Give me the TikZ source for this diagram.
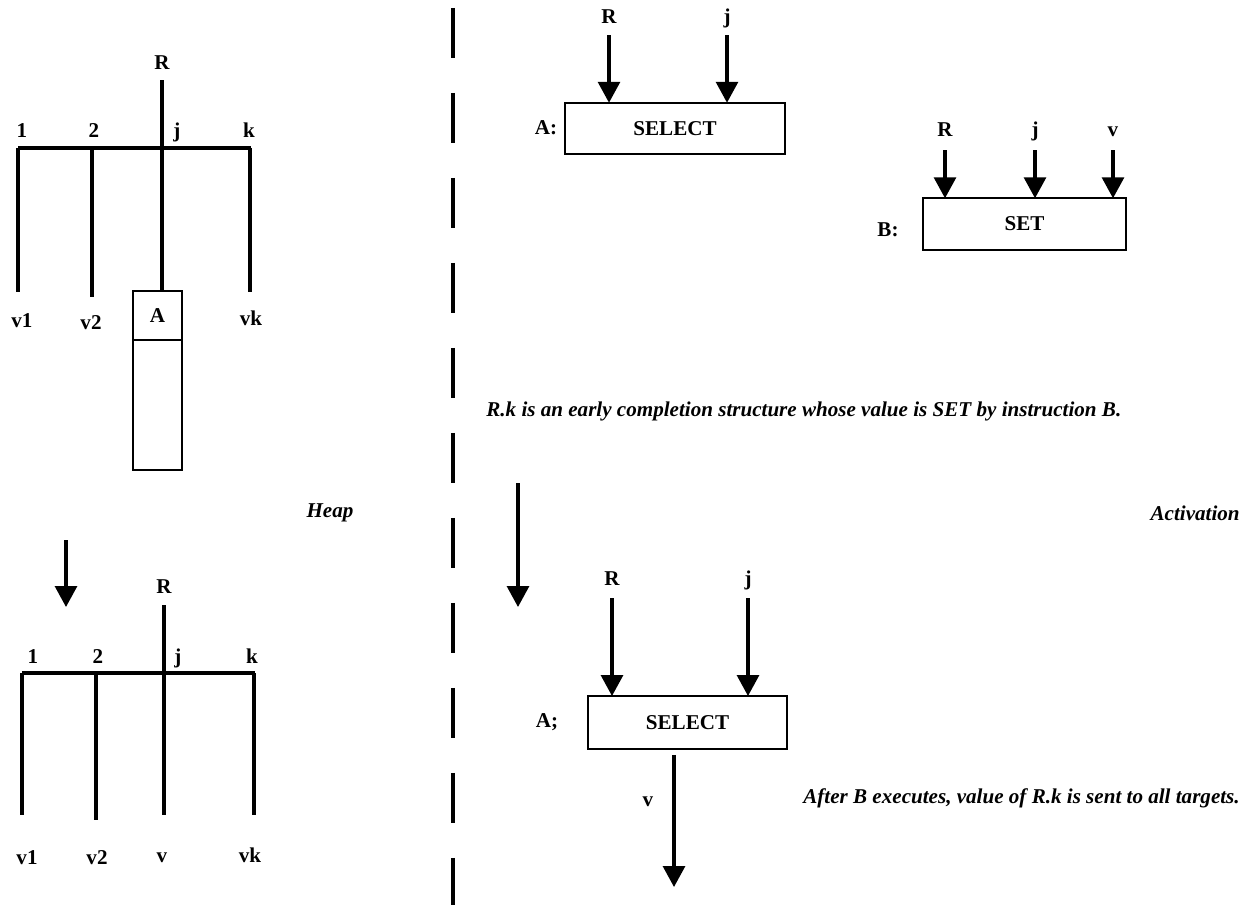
\documentclass[tikz,border=0pt]{standalone}
\usepackage{fontspec}
\setmainfont{Liberation Serif}
\usetikzlibrary{arrows.meta, positioning}

\begin{document}
\begin{tikzpicture}[
  x=0.02cm, y=-0.02cm,
  font=\bfseries\fontsize{12}{14}\selectfont,
  wire/.style={line width=1.8pt},
  lbl/.style={anchor=base, inner sep=2pt, text depth=0pt},
  box/.style={draw, line width=1.4pt, minimum height=1.03cm, outer sep=0pt},
  cell/.style={draw, line width=1.5pt, minimum width=0.98cm, minimum height=0.98cm, outer sep=0pt},
  note/.style={font=\bfseries\itshape\fontsize{12}{14}\selectfont, inner sep=0pt},
  arr/.style={line width=1.8pt, -{Triangle[length=0.42cm,width=0.44cm]}},
  divider/.style={line width=1.8pt, dash pattern=on 1.0cm off 0.7cm}
]
\useasboundingbox (0,0) rectangle (1250,905);

% Heap: structure R before B has run
\node[lbl] (R1) at (162,70) {R};
\node[cell] (cellA) at (157.5,315.5) {A};
\node[cell, minimum height=2.6cm, below=0pt of cellA] (slotA) {};
\draw[wire, shorten <=0.13cm] (R1.south) -- (R1.south |- cellA.north);
\coordinate (bar1L) at (18,148);
\coordinate (bar1R) at (251,148);
\draw[wire] (bar1L) -- (bar1R);
\foreach \n/\x/\e in {1/18/292, 2/92/297, k/250/292} {
  \coordinate (t1\n) at (\x,148);
  \coordinate (b1\n) at (\x,\e);
  \draw[wire] (t1\n) -- (b1\n);
}
\foreach \n/\x in {1/22, 2/94, j/177, k/249}
  \node[lbl] (top1\n) at (\x,138) {\n};
\node[lbl] (v1a) at (22,328) {v1};
\node[lbl] (v2a) at (91,330) {v2};
\node[lbl] (vka) at (251,326) {vk};

% Heap: structure R after B has run
\coordinate (heapFrom) at (66,540);
\coordinate (heapTo) at (66,607);
\draw[arr] (heapFrom) -- (heapTo);
\node[lbl] (R2) at (164,593) {R};
\coordinate (bar2L) at (22,673);
\coordinate (bar2R) at (255,673);
\draw[wire] (bar2L) -- (bar2R);
\foreach \n/\x/\e in {1/22/815, 2/96/820, k/254/815} {
  \coordinate (t2\n) at (\x,673);
  \coordinate (b2\n) at (\x,\e);
  \draw[wire] (t2\n) -- (b2\n);
}
\coordinate (b2j) at (164,815);
\draw[wire, shorten <=0.17cm] (R2.south) -- (b2j);
\foreach \n/\x in {1/33, 2/98, j/178, k/252}
  \node[lbl] (top2\n) at (\x,663) {\n};
\node[lbl] (v1b) at (27,864) {v1};
\node[lbl] (v2b) at (97,864) {v2};
\node[lbl] (vjb) at (162,862) {v};
\node[lbl] (vkb) at (250,862) {vk};

% dividing line
\coordinate (divTop) at (453,8);
\coordinate (divBot) at (453,905);
\draw[divider] (divTop) -- (divBot);
\node[note] (heap) at (330,513) {Heap};
\node[note, anchor=east] (activ) at (1240,513) {Activation};

% Activation: instructions A and B
\node[lbl] (Ra) at (609,24) {R};
\node[lbl] (ja) at (727,24) {j};
\node[box, minimum width=4.4cm] (selA) at (675,128.5) {SELECT};
\node[lbl] (labA) at (546,135) {A:};
\draw[arr, shorten <=0.15cm] (Ra.south) -- (Ra.south |- selA.north);
\draw[arr, shorten <=0.15cm] (ja.south) -- (ja.south |- selA.north);

\node[box, minimum width=4.06cm] (setB) at (1024.5,224) {SET};
\node[lbl] (labB) at (888,237) {B:};
\foreach \n/\x/\t in {R/945/R, j/1035/j, v/1113/v} {
  \node[lbl] (\n b) at (\x,137) {\t};
  \draw[arr, shorten <=0.19cm] (\n b.south) -- (\n b.south |- setB.north);
}

\node[note, anchor=base west] (note1) at (486,416)
  {R.k is an early completion structure whose value is SET by instruction B.};

% Activation: A after B has run
\coordinate (actFrom) at (518,483);
\coordinate (actTo) at (518,607);
\draw[arr] (actFrom) -- (actTo);
\node[lbl] (Rc) at (612,585) {R};
\node[lbl] (jc) at (748,585) {j};
\node[box, minimum width=3.98cm, minimum height=1.06cm] (selC) at (687.5,722.5) {SELECT};
\node[lbl] (labC) at (547,727) {A;};
\draw[arr, shorten <=0.19cm] (Rc.south) -- (Rc.south |- selC.north);
\draw[arr, shorten <=0.19cm] (jc.south) -- (jc.south |- selC.north);
\coordinate (vOut) at (674,887);
\draw[arr, shorten <=0.12cm] (vOut |- selC.south) -- (vOut);
\node[lbl] (vlab) at (648,806) {v};
\node[note, anchor=base east] (note2) at (1240,803)
  {After B executes, value of R.k is sent to all targets.};
\end{tikzpicture}
\end{document}
